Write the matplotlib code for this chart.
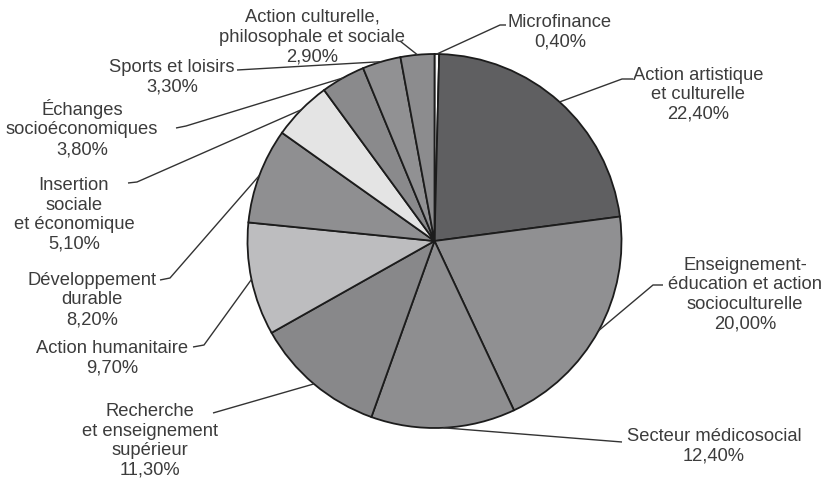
import numpy as np
import matplotlib.pyplot as plt

# --- Donnees ---
categories = [
    "Microfinance",
    "Action artistique\net culturelle",
    "Enseignement-\néducation et action\nsocioculturelle",
    "Secteur médicosocial",
    "Recherche\net enseignement\nsupérieur",
    "Action humanitaire",
    "Développement\ndurable",
    "Insertion\nsociale\net économique",
    "Échanges\nsocioéconomiques",
    "Sports et loisirs",
    "Action culturelle,\nphilosophale et sociale",
]
parts = [0.4, 22.4, 20.0, 12.4, 11.3, 9.7, 8.2, 5.1, 3.8, 3.3, 2.9]
couleurs = ["#fafafa", "#5f5f61", "#909092", "#8e8e90", "#88888a", "#bdbdbf",
            "#8f8f91", "#e4e4e4", "#8a8a8c", "#919193", "#8c8c8e"]

# --- Mise en page (coordonnees image, pixels) ---
W, H = 829, 486
CX, CY, R = 434.5, 241, 187
pos_texte = [(560, 32.5), (698, 94.7), (745, 294.5), (714, 446.5), (150, 441),
             (112, 358.5), (92, 300), (74, 215), (82, 128.5), (172, 77), (312, 37)]
chemins = [
    [(500, 25), (506, 25)],
    [(622, 79), (633, 79)],
    [(653, 285), (663, 285)],
    [(622, 442)],
    [(213, 413)],
    [(204, 345), (193, 347)],
    [(170, 278), (160, 280)],
    [(137, 182), (128, 183)],
    [(186, 126), (176, 128)],
    [(237, 70)],
    [(400, 41)],
]

plt.rcParams["font.family"] = ["Liberation Sans", "DejaVu Sans"]

fig = plt.figure(figsize=(W / 100, H / 100), dpi=100)
ax = fig.add_axes([0, 0, 1, 1])

wedges, _ = ax.pie(parts, colors=couleurs, startangle=90, counterclock=False,
                   center=(CX, H - CY), radius=R,
                   wedgeprops=dict(edgecolor="#1c1c1c", linewidth=1.3))

ax.set_xlim(0, W)
ax.set_ylim(0, H)
ax.set_aspect("equal")
ax.axis("off")

for w, lab, val, (tx, ty), chemin in zip(wedges, categories, parts,
                                         pos_texte, chemins):
    ang = np.deg2rad((w.theta1 + w.theta2) / 2)
    x0 = CX + R * np.cos(ang)
    y0 = (H - CY) + R * np.sin(ang)
    xs = [x0] + [p[0] for p in chemin]
    ys = [y0] + [H - p[1] for p in chemin]
    ax.plot(xs, ys, color="#333333", lw=1.0, solid_capstyle="butt")
    txt = f"{lab}\n{val:.2f}%".replace(".", ",")
    ax.text(tx, H - ty, txt, ha="center", va="center", fontsize=13.2,
            color="#3c3c3c", linespacing=1.2, multialignment="center")

fig.savefig("out.png", dpi=100)
plt.close()
